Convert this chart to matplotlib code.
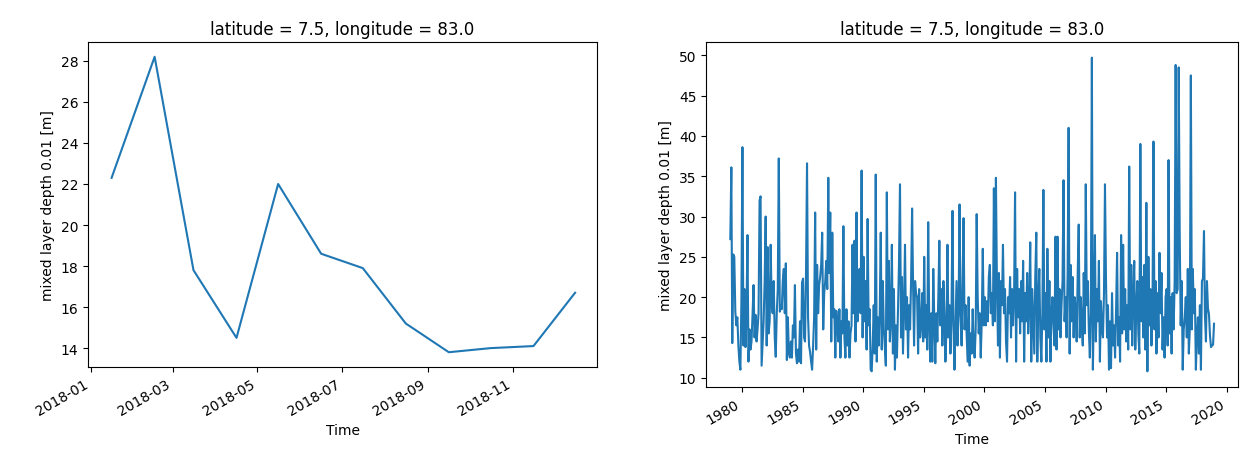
from matplotlib import pyplot as plt
import matplotlib.dates as mdates
import pandas as pd

# 2018 monthly mixed layer depth (left panel)
mld_2018 = [22.3, 28.2, 17.8, 14.5, 22.0, 18.6, 17.9, 15.2, 13.8, 14.0, 14.1, 16.7]

# 1979-2018 monthly values (right panel), one row per year
mld_1979 = [27.2, 36.1, 14.3, 25.3, 25.0, 18.2, 16.5, 17.5, 14.0, 12.0, 11.0, 19.5]
mld_1980 = [38.6, 14.0, 21.0, 13.8, 17.5, 27.7, 12.0, 16.0, 13.5, 14.5, 17.8, 21.5]
mld_1981 = [15.0, 17.8, 14.5, 16.0, 18.0, 32.0, 32.5, 11.5, 14.2, 17.0, 22.0, 30.0]
mld_1982 = [14.0, 26.2, 15.5, 17.0, 26.5, 19.0, 18.0, 22.0, 15.0, 12.6, 18.0, 21.0]
mld_1983 = [37.2, 18.2, 19.0, 18.5, 22.0, 23.5, 18.0, 24.2, 12.2, 17.5, 13.0, 12.5]
mld_1984 = [14.5, 12.5, 16.5, 15.0, 21.5, 13.0, 11.8, 13.5, 12.0, 17.0, 11.8, 21.8]
mld_1985 = [22.3, 15.0, 14.5, 23.0, 36.6, 17.5, 14.0, 13.2, 12.0, 11.0, 14.0, 17.5]
mld_1986 = [30.5, 13.5, 24.0, 18.0, 21.5, 22.5, 24.0, 28.0, 16.0, 20.5, 22.0, 24.5]
mld_1987 = [21.0, 34.8, 23.0, 30.5, 14.5, 28.0, 17.5, 18.5, 12.5, 18.3, 16.5, 14.5]
mld_1988 = [18.5, 12.5, 17.0, 15.5, 28.8, 15.0, 12.5, 18.5, 14.0, 17.0, 12.5, 15.5]
mld_1989 = [16.5, 26.5, 18.0, 27.0, 14.5, 30.5, 17.0, 20.0, 23.5, 18.0, 35.7, 15.0]
mld_1990 = [25.0, 17.0, 22.0, 13.5, 29.7, 16.5, 18.5, 11.0, 10.8, 14.0, 19.0, 13.0]
mld_1991 = [35.2, 12.0, 17.5, 14.0, 18.0, 28.0, 13.5, 22.0, 16.0, 14.0, 11.5, 33.0]
mld_1992 = [16.0, 24.5, 14.5, 17.0, 26.5, 13.0, 21.0, 11.0, 16.5, 12.5, 18.5, 24.0]
mld_1993 = [34.0, 15.0, 22.5, 13.0, 18.5, 26.5, 16.0, 20.0, 12.5, 19.0, 16.0, 22.0]
mld_1994 = [31.0, 21.0, 14.0, 22.0, 20.5, 20.0, 13.0, 21.0, 15.0, 16.5, 20.5, 14.5]
mld_1995 = [25.0, 15.0, 19.0, 13.5, 29.3, 17.0, 12.0, 18.0, 12.0, 23.5, 17.0, 11.8]
mld_1996 = [18.0, 14.5, 20.0, 27.0, 16.5, 21.0, 14.0, 22.0, 18.0, 12.0, 16.0, 26.5]
mld_1997 = [15.0, 19.0, 13.0, 17.5, 30.7, 16.5, 11.0, 16.5, 22.0, 14.0, 18.0, 31.5]
mld_1998 = [18.0, 14.0, 21.0, 29.8, 16.0, 19.0, 15.5, 12.0, 20.0, 11.5, 15.5, 13.0]
mld_1999 = [18.5, 14.0, 12.5, 16.0, 30.3, 20.0, 15.5, 18.0, 12.5, 17.0, 26.0, 16.5]
mld_2000 = [20.0, 16.5, 19.5, 17.0, 22.5, 24.0, 18.0, 20.5, 16.5, 33.5, 17.0, 34.8]
mld_2001 = [21.5, 14.0, 23.0, 12.5, 22.0, 19.0, 26.5, 18.0, 21.0, 14.5, 12.0, 20.0]
mld_2002 = [18.0, 22.5, 15.0, 21.0, 16.5, 20.0, 33.0, 12.0, 23.5, 17.5, 21.0, 15.5]
mld_2003 = [22.0, 17.0, 24.5, 12.0, 20.5, 17.0, 23.0, 15.5, 19.0, 26.8, 12.0, 21.0]
mld_2004 = [17.0, 13.0, 22.5, 28.0, 12.0, 19.5, 23.5, 15.0, 12.0, 18.0, 33.3, 16.0]
mld_2005 = [20.5, 12.0, 26.0, 15.0, 22.0, 12.0, 18.0, 20.0, 16.5, 14.0, 27.5, 13.5]
mld_2006 = [27.5, 16.0, 21.0, 15.0, 19.0, 22.0, 34.5, 17.0, 20.0, 15.0, 23.0, 41.0]
mld_2007 = [13.0, 24.0, 17.0, 22.5, 15.0, 20.0, 18.5, 14.5, 23.0, 29.0, 15.0, 20.0]
mld_2008 = [16.5, 14.0, 23.0, 15.5, 34.0, 19.0, 22.0, 16.0, 12.5, 18.0, 49.7, 11.0]
mld_2009 = [18.5, 27.7, 14.5, 21.0, 17.0, 24.5, 12.0, 19.5, 16.0, 15.0, 20.5, 34.0]
mld_2010 = [22.0, 15.0, 19.0, 11.0, 17.0, 11.2, 20.5, 14.0, 16.5, 12.5, 18.5, 25.5]
mld_2011 = [14.0, 17.5, 12.0, 27.7, 15.5, 26.5, 16.0, 21.0, 14.5, 19.0, 13.5, 36.2]
mld_2012 = [16.0, 24.0, 14.0, 20.0, 24.5, 13.5, 18.5, 22.0, 15.5, 13.0, 39.0, 17.0]
mld_2013 = [22.5, 15.0, 24.0, 13.5, 31.7, 10.8, 25.0, 16.5, 21.0, 14.0, 18.0, 39.3]
mld_2014 = [16.0, 22.0, 13.0, 20.5, 15.0, 25.5, 18.0, 23.0, 13.5, 17.5, 12.5, 20.0]
mld_2015 = [21.0, 14.0, 37.0, 15.5, 20.0, 13.0, 20.5, 16.0, 22.0, 48.8, 20.5, 21.0]
mld_2016 = [48.5, 27.5, 16.5, 22.0, 11.0, 16.0, 17.5, 20.0, 15.0, 23.5, 13.0, 16.0]
mld_2017 = [47.5, 16.0, 23.5, 18.0, 21.0, 11.0, 15.0, 17.5, 13.0, 19.0, 11.0, 22.0]

years = range(1979, 2018)
mld_all = sum([globals()[f"mld_{y}"] for y in years], []) + mld_2018

# monthly means are stamped at mid-month
months_2018 = pd.date_range("2018-01-01", periods=12, freq="MS") + pd.Timedelta(days=15)
months_all = pd.date_range("1979-01-01", periods=len(mld_all), freq="MS") + pd.Timedelta(days=15)

title = "latitude = 7.5, longitude = 83.0"
ylabel = "mixed layer depth 0.01 [m]"
color = "#1f77b4"

plt.rcParams["font.family"] = "DejaVu Sans"
plt.rcParams["font.size"] = 10

fig = plt.figure(figsize=(12.52, 4.6), dpi=100)

ax1 = fig.add_axes([0.0703, 0.2, 0.4066, 0.7065])
ax1.plot(months_2018, mld_2018, color=color, lw=1.5)
ax1.set_title(title, fontsize=12)
ax1.set_ylabel(ylabel)
ax1.set_xlabel("Time")
ax1.set_xlim(pd.Timestamp("2017-12-30"), pd.Timestamp("2018-12-31 20:00"))
ax1.xaxis.set_major_locator(mdates.MonthLocator(bymonth=[1, 3, 5, 7, 9, 11]))
ax1.xaxis.set_major_formatter(mdates.DateFormatter("%Y-%m"))

ax2 = fig.add_axes([0.564, 0.1565, 0.425, 0.75])
ax2.plot(months_all, mld_all, color=color, lw=1.5)
ax2.set_title(title, fontsize=12)
ax2.set_ylabel(ylabel)
ax2.set_xlabel("Time")
ax2.xaxis.set_major_locator(mdates.YearLocator(5))
ax2.xaxis.set_major_formatter(mdates.DateFormatter("%Y"))

for ax in (ax1, ax2):
    for lbl in ax.get_xticklabels():
        lbl.set_rotation(30)
        lbl.set_ha("right")

fig.savefig("out.png", format="png")
plt.close()
